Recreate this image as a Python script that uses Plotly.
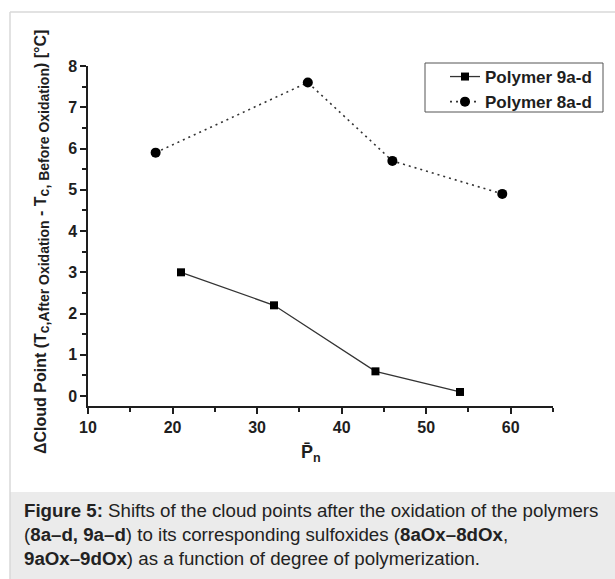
import plotly.graph_objects as go

# Degree of polymerization and cloud-point shift for each polymer series
pn_9 = [21, 32, 44, 54]
shift_9 = [3.0, 2.2, 0.6, 0.1]
pn_8 = [18, 36, 46, 59]
shift_8 = [5.9, 7.6, 5.7, 4.9]

x_ticks = [10, 20, 30, 40, 50, 60]
y_ticks = [0, 1, 2, 3, 4, 5, 6, 7, 8]

W, H = 615, 579
L, R, T, B = 88, 62, 66, 173
PW, PH = W - L - R, H - T - B


def px(x):
    return (x - L) / PW


def py(y):
    return (H - B - y) / PH


FONT = "Liberation Sans, Arial, sans-serif"
INK = "#1e1e1e"

fig = go.Figure()
fig.add_trace(go.Scatter(
    x=pn_9, y=shift_9, name="Polymer 9a-d", mode="lines+markers",
    line=dict(color="#333333", width=1.3),
    marker=dict(symbol="square", size=8, color="#000000"),
))
fig.add_trace(go.Scatter(
    x=pn_8, y=shift_8, name="Polymer 8a-d", mode="lines+markers",
    line=dict(color="#333333", width=1.6, dash="2px,4px"),
    marker=dict(symbol="circle", size=10, color="#000000"),
))

axis_common = dict(
    showline=True, linecolor=INK, linewidth=1.5, mirror=False,
    showgrid=False, zeroline=False, ticks="outside", ticklen=6,
    tickwidth=1.5, tickcolor=INK,
    tickfont=dict(family=FONT, size=16, color=INK, weight="bold"),
)

fig.update_xaxes(
    range=[10, 65], tickvals=x_ticks,
    minor=dict(dtick=5, tick0=10, ticks="outside", ticklen=4,
               tickwidth=1.5, tickcolor=INK),
    **axis_common,
)
fig.update_yaxes(
    range=[-0.24, 8], tickvals=y_ticks,
    minor=dict(dtick=0.5, tick0=0, ticks="outside", ticklen=4,
               tickwidth=1.5, tickcolor=INK),
    **axis_common,
)

shapes = [
    # caption panel
    dict(type="rect", xref="paper", yref="paper", x0=px(10), x1=px(616),
         y0=py(580), y1=py(492), fillcolor="#ebebeb", line=dict(width=0),
         layer="below"),
    # outer frame
    dict(type="line", xref="paper", yref="paper", x0=px(10), x1=px(10),
         y0=py(12), y1=py(580), line=dict(color="#d8d8d8", width=1.5)),
    dict(type="line", xref="paper", yref="paper", x0=px(10), x1=px(616),
         y0=py(12), y1=py(12), line=dict(color="#d8d8d8", width=1.5)),
    # legend frame
    dict(type="rect", xref="paper", yref="paper", x0=px(425), x1=px(603),
         y0=py(112), y1=py(63), line=dict(color="#555555", width=1),
         fillcolor="rgba(0,0,0,0)"),
]

SUB = '<sub><span style="font-size:14px">{}</span></sub>'
ytitle = ("<b>ΔCloud Point (T" + SUB.format("<b>c,After Oxidation</b>")
          + " - T" + SUB.format("<b>c, Before Oxidation</b>") + ") [°C]</b>")

annotations = [
    dict(text=ytitle, xref="paper", yref="paper", x=px(42), y=py(242),
         xanchor="center", yanchor="middle",
         textangle=-90, showarrow=False,
         font=dict(family=FONT, size=16, color=INK)),
    dict(text="<b>P̄<sub>n</sub></b>", xref="paper", yref="paper",
         x=px(311), y=py(453), xanchor="center", yanchor="middle",
         showarrow=False,
         font=dict(family=FONT, size=18, color=INK)),
]

caption = [
    "<b>Figure 5:</b> Shifts of the cloud points after the oxidation of the polymers",
    "(<b>8a–d, 9a–d</b>) to its corresponding sulfoxides (<b>8aOx–8dOx</b>,",
    "<b>9aOx–9dOx</b>) as a function of degree of polymerization.",
]
for i, line in enumerate(caption):
    annotations.append(dict(
        text=line, xref="paper", yref="paper", x=px(22), y=py(510 + 24 * i),
        xanchor="left", yanchor="middle", showarrow=False,
        font=dict(family=FONT, size=18.7, color="#222222"),
    ))

fig.update_layout(
    width=W, height=H, autosize=False,
    margin=dict(l=L, r=R, t=T, b=B, pad=0),
    paper_bgcolor="white", plot_bgcolor="white",
    showlegend=True,
    legend=dict(x=px(445), y=py(59), xanchor="left", yanchor="top",
                bgcolor="rgba(0,0,0,0)", borderwidth=0,
                font=dict(family=FONT, size=17, color=INK, weight="bold"),
                tracegroupgap=0),
    shapes=shapes, annotations=annotations,
)

fig.write_html("out.html")
